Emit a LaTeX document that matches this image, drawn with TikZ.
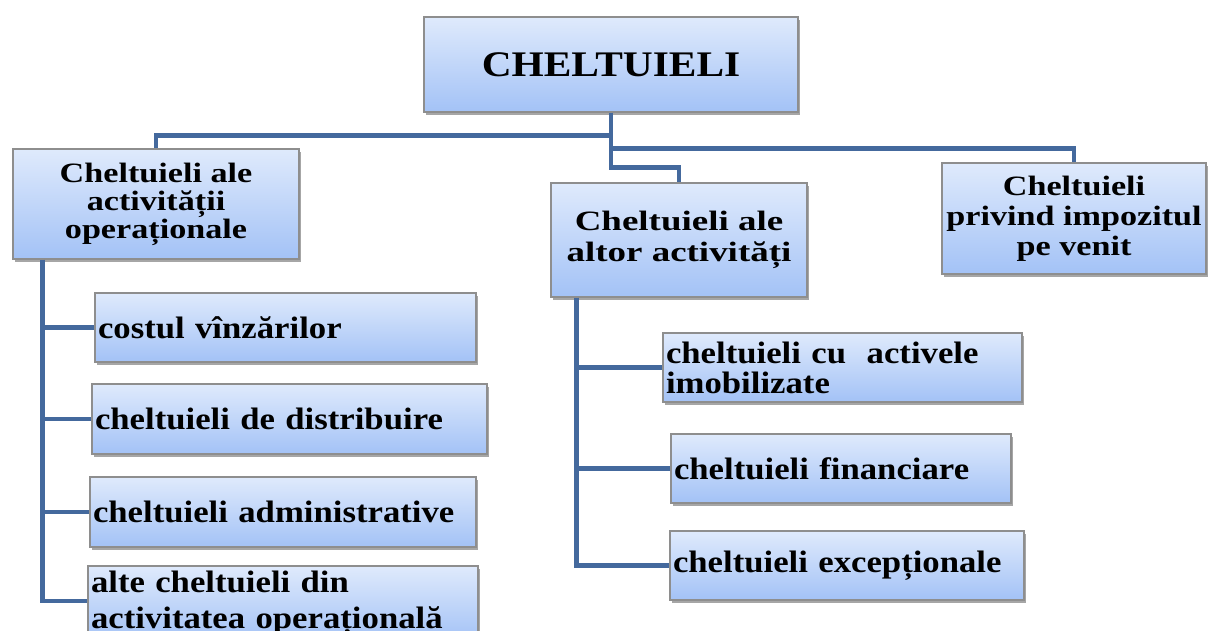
\documentclass[tikz,border=0pt]{standalone}
\usepackage{fontspec}
\usetikzlibrary{shadows}
\newfontfamily\titlefont{Liberation Serif}[FakeStretch=1.15]
\newfontfamily\headAfont{Liberation Serif}[FakeStretch=1.22]
\newfontfamily\headBfont{Liberation Serif}[FakeStretch=1.32]
\newfontfamily\childfont{Liberation Serif}[FakeStretch=1.12]
\definecolor{boxtop}{HTML}{DFEAFC}
\definecolor{boxbot}{HTML}{A3C2F6}
\definecolor{boxline}{HTML}{8E8E8E}
\definecolor{connblue}{HTML}{44699D}
\tikzset{
  box/.style={rectangle, draw=boxline, line width=1.3pt, top color=boxtop, bottom color=boxbot,
    inner sep=0pt, drop shadow={shadow xshift=2pt, shadow yshift=-3pt, opacity=0.35, fill=black}},
  headbox/.style={box, align=center},
  childbox/.style={box, align=left, text width=#1, inner xsep=3pt},
  conn/.style={draw=connblue, line width=4.5pt, line join=miter},
  fhead/.style={font={\headAfont\bfseries\fontsize{28}{#1}\selectfont}},
  fheadB/.style={font={\headBfont\bfseries\fontsize{28}{#1}\selectfont}},
  fchild/.style={font={\childfont\bfseries\fontsize{31}{#1}\selectfont\spaceskip=0.32em plus 0.1em}},
}
\begin{document}
\begin{tikzpicture}[x=1pt,y=-1pt]
\useasboundingbox (0,0) rectangle (1208,630);
\begin{scope}
\clip (0,0) rectangle (1208,630);
% title
\node[headbox, minimum width=374, minimum height=95, font={\titlefont\bfseries\fontsize{36}{36}\selectfont}] (title) at (611,64.5) {CHELTUIELI};
% level 1
\node[headbox, fhead=28, minimum width=286, minimum height=110] (b1) at (156,204)
  {Cheltuieli ale\\activității\\operaționale};
\node[headbox, fheadB=31, minimum width=256, minimum height=114] (b2) at (679,240)
  {Cheltuieli ale\\altor activități};
\node[headbox, fhead=30, minimum width=264, minimum height=111] (b3) at (1074,218.5)
  {Cheltuieli\\privind impozitul\\pe venit};
% left children
\node[childbox=375, fchild=31, minimum width=381, minimum height=69] (c1) at (285.5,327.5)
  {costul vînzărilor};
\node[childbox=389, fchild=31, minimum width=395, minimum height=70] (c2) at (289.5,419)
  {cheltuieli de distribuire};
\node[childbox=380, fchild=31, minimum width=386, minimum height=70] (c3) at (283,512)
  {cheltuieli administrative};
\node[childbox=384, fchild=36, minimum width=390, minimum height=75] (c4) at (283,603.5)
  {alte cheltuieli din\\activitatea operațională};
% right children
\node[childbox=353, fchild=30, minimum width=359, minimum height=69] (r1) at (842.5,367.5)
  {cheltuieli cu~ activele\\imobilizate};
\node[childbox=334, fchild=31, minimum width=340, minimum height=69] (r2) at (841,468.5)
  {cheltuieli financiare};
\node[childbox=348, fchild=31, minimum width=354, minimum height=69] (r3) at (847,565.5)
  {cheltuieli excepționale};
\end{scope}
% connectors
\coordinate (hub) at ([yshift=-23]title.south);
\draw[conn] (title.south) -- ++(0,55) -| (b2.north);
\draw[conn] (hub) -| (b1.north);
\draw[conn] ([yshift=-36]title.south) -| (b3.north);
\coordinate (lspine) at ([xshift=30]b1.south west);
\coordinate (rspine) at ([xshift=26]b2.south west);
\draw[conn] (lspine) |- ([yshift=2.5]c4.west);
\draw[conn] (c1.west) -- (c1.west -| lspine);
\draw[conn] (c2.west) -- (c2.west -| lspine);
\draw[conn] (c3.west) -- (c3.west -| lspine);
\draw[conn] (rspine) |- (r3.west);
\draw[conn] (r1.west) -- (r1.west -| rspine);
\draw[conn] (r2.west) -- (r2.west -| rspine);
\end{tikzpicture}
\end{document}
